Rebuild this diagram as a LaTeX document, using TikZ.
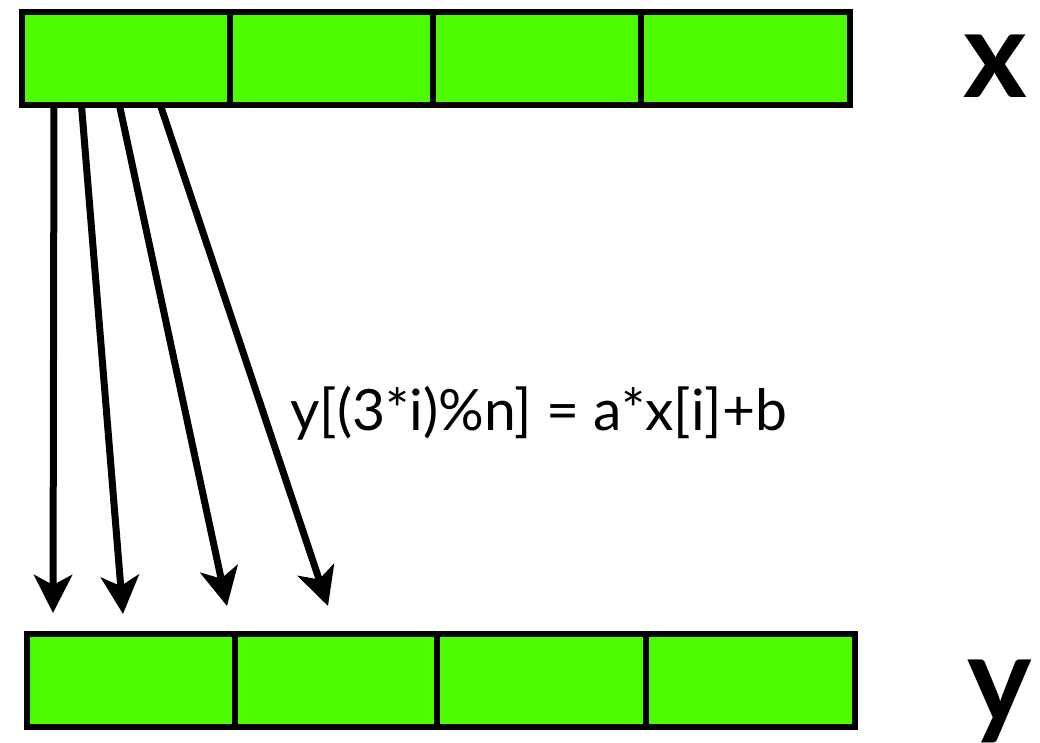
\documentclass[tikz,border=0pt]{standalone}
\usepackage{fontspec}
\setmainfont{Lato}
\usetikzlibrary{arrows.meta}
\definecolor{cellgreen}{RGB}{78,252,0}
\tikzset{
  cell/.style={draw=black, line width=6pt, fill=cellgreen, inner sep=0pt, outer sep=0pt},
  conn/.style={line width=7pt, -{Stealth[length=38pt,width=38pt,inset=10pt]}},
}
\begin{document}
\begin{tikzpicture}[x=1pt,y=-1pt]
\useasboundingbox (0,0) rectangle (1040,743);
% top array x
\node[cell, minimum width=208.5pt, minimum height=93.5pt, anchor=north west] (x1) at (21.5,12) {};
\node[cell, minimum width=203pt, minimum height=93.5pt, anchor=north west] (x2) at (230,12) {};
\node[cell, minimum width=208pt, minimum height=93.5pt, anchor=north west] (x3) at (433,12) {};
\node[cell, minimum width=208.5pt, minimum height=93.5pt, anchor=north west] (x4) at (641,12) {};
% bottom array y
\node[cell, minimum width=208pt, minimum height=92.5pt, anchor=north west] (y1) at (27,634) {};
\node[cell, minimum width=202pt, minimum height=92.5pt, anchor=north west] (y2) at (235,634) {};
\node[cell, minimum width=209pt, minimum height=92.5pt, anchor=north west] (y3) at (437,634) {};
\node[cell, minimum width=208.5pt, minimum height=92.5pt, anchor=north west] (y4) at (646,634) {};
% labels
\node[font=\fontsize{122}{122}\selectfont\bfseries, anchor=base, inner sep=0pt] (lx) at (995,98) {x};
\node[font=\fontsize{122}{122}\selectfont\bfseries, anchor=base, inner sep=0pt] (ly) at (1000,722) {y};
\node[font=\fontsize{57}{57}\selectfont, anchor=base west, inner sep=0pt] (eq) at (290,430) {y[(3*i)\%n] = a*x[i]+b};
% connectors
\coordinate (s1) at ([xshift=32.5pt]x1.south west);
\coordinate (s2) at ([xshift=60pt]x1.south west);
\coordinate (s3) at ([xshift=98pt]x1.south west);
\coordinate (s4) at ([xshift=139pt]x1.south west);
\coordinate (t1) at (53,613);
\coordinate (t2) at (123,614);
\coordinate (t3) at (227,606);
\coordinate (t4) at (328,606);
\draw[conn] (s1) -- (t1);
\draw[conn] (s2) -- (t2);
\draw[conn] (s3) -- (t3);
\draw[conn] (s4) -- (t4);
\end{tikzpicture}
\end{document}
